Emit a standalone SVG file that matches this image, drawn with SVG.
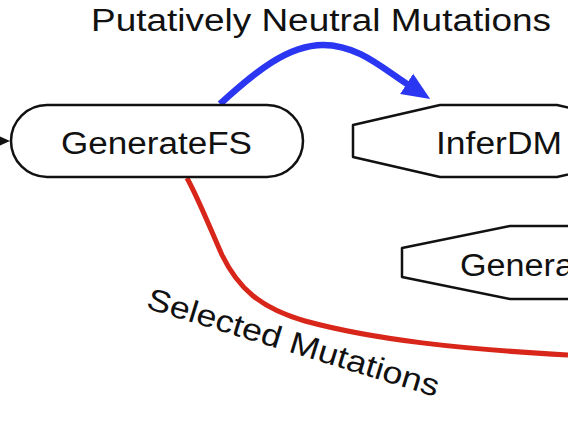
<svg xmlns="http://www.w3.org/2000/svg" width="568" height="426" viewBox="0 0 568 426">
<style>
  .lbl { font-family: "Liberation Sans", Arial, Helvetica, sans-serif; font-size: 31px; fill: #111; }
  .node { fill: #fff; stroke: #111; stroke-width: 2.5; stroke-linejoin: round; }
  .blue { fill: none; stroke: #2a36f2; stroke-width: 6.5; }
  .red { fill: none; stroke: #d8261a; stroke-width: 5; }
</style>
<defs>
  <marker id="bluehead" markerUnits="userSpaceOnUse" markerWidth="30" markerHeight="30" viewBox="0 0 30 30" refX="4" refY="15" orient="auto">
    <path d="M0,3 L28,15 L0,27 Z" fill="#2a36f2"/>
  </marker>
</defs>
<rect width="568" height="426" fill="#fff"/>
<text class="lbl" x="91" y="31" font-size="32" textLength="460" lengthAdjust="spacingAndGlyphs">Putatively Neutral Mutations</text>
<g id="connectors">
  <path class="blue" d="M220,104 C255,72 288,45 323,45 C358,45 382,68 410,86" marker-end="url(#bluehead)"/>
  <path class="red" d="M187,178 C199,200 210,228 222,255 C238,288 260,308 305,321 C375,340 460,349 568,355"/>
  <path d="M0,141 L3,141" stroke="#111" stroke-width="2"/>
  <path d="M0,136.5 L10,141 L0,145.5 Z" fill="#111"/>
</g>
<g id="GenerateFS">
  <rect class="node" x="11" y="105" width="292" height="72" rx="36" ry="36"/>
  <text class="lbl" x="61" y="154" textLength="191" lengthAdjust="spacingAndGlyphs">GenerateFS</text>
</g>
<g id="InferDM">
  <path class="node" d="M353,125 L440,105 L557,105 L643,125 L643,157 L557,177 L440,177 L353,157 Z"/>
  <text class="lbl" x="436" y="154" textLength="126" lengthAdjust="spacingAndGlyphs">InferDM</text>
</g>
<g id="Genera">
  <path class="node" d="M402,248 L510,226 L700,226 L700,299 L510,299 L402,277 Z"/>
  <text class="lbl" x="460" y="276" textLength="114" lengthAdjust="spacingAndGlyphs">Genera</text>
</g>
<text class="lbl" transform="translate(145,308) rotate(17)" x="0" y="0" textLength="304" lengthAdjust="spacingAndGlyphs">Selected Mutations</text>
</svg>
